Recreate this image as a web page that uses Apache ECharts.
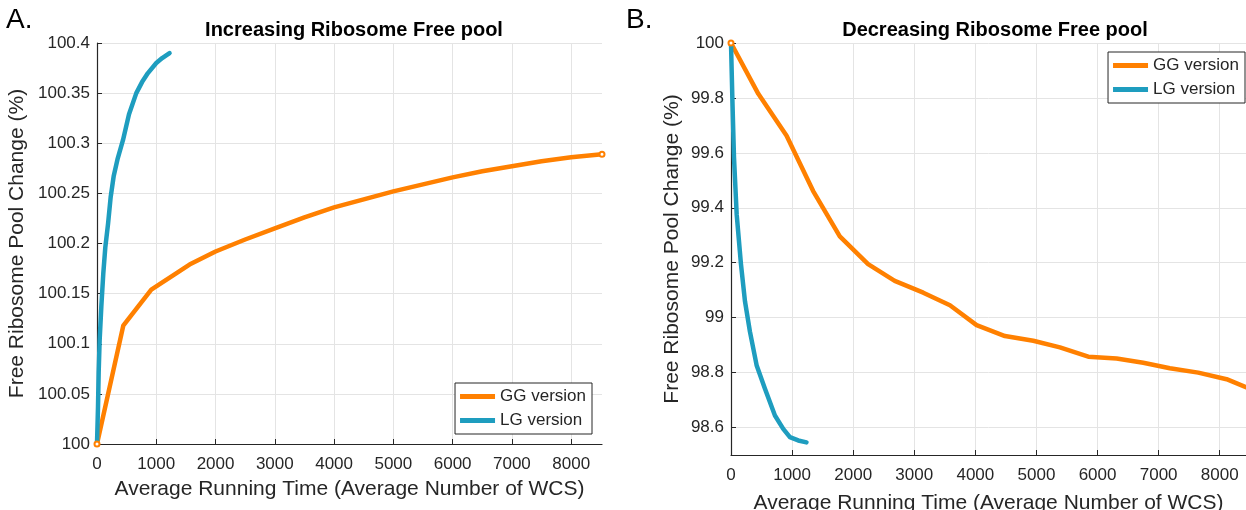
<!DOCTYPE html>
<html>
<head>
<meta charset="utf-8">
<script src="https://cdn.jsdelivr.net/npm/echarts@6/dist/echarts.min.js"></script>
<style>
  html, body { margin: 0; padding: 0; background: #fff; }
  #chart { width: 1246px; height: 510px; }
</style>
</head>
<body>
<div id="chart"></div>
<script>
// Panel A: increasing free ribosome pool
const incGGx = [0, 443, 916, 1561, 2000, 2500, 3000, 3500, 4000, 4500, 5000, 5500, 6000, 6500, 7000, 7500, 8000, 8520];
const incGGy = [100, 100.118, 100.154, 100.179, 100.192, 100.204, 100.215, 100.226, 100.236, 100.244, 100.252, 100.259, 100.266, 100.272, 100.277, 100.282, 100.286, 100.289];
const incLGx = [0, 17, 28, 45, 73, 106, 140, 187, 230, 281, 350, 438, 540, 663, 760, 859, 1000, 1100, 1224];
const incLGy = [100, 100.037, 100.071, 100.104, 100.137, 100.170, 100.196, 100.220, 100.246, 100.267, 100.285, 100.303, 100.329, 100.350, 100.361, 100.370, 100.380, 100.385, 100.390];

// Panel B: decreasing free ribosome pool
const decGGx = [0, 447, 910, 1345, 1781, 2244, 2680, 3147, 3584, 4020, 4484, 4948, 5384, 5848, 6312, 6748, 7184, 7648, 8112, 8428];
const decGGy = [100, 99.815, 99.662, 99.461, 99.296, 99.195, 99.134, 99.091, 99.045, 98.973, 98.933, 98.916, 98.892, 98.858, 98.851, 98.836, 98.816, 98.800, 98.776, 98.747];
const decLGx = [0, 22, 49, 93, 163, 229, 310, 419, 556, 719, 855, 964, 1100, 1236];
const decLGy = [100, 99.80, 99.583, 99.376, 99.195, 99.059, 98.949, 98.827, 98.741, 98.644, 98.595, 98.565, 98.553, 98.546];

// Tick labels
const xTicks = [0, 1000, 2000, 3000, 4000, 5000, 6000, 7000, 8000];
const incYTicks = [100, 100.05, 100.1, 100.15, 100.2, 100.25, 100.3, 100.35, 100.4];
const decYTicks = [98.6, 98.8, 99, 99.2, 99.4, 99.6, 99.8, 100];

const seriesNames = ['GG version', 'LG version'];
const ORANGE = '#ff8000';
const BLUE = '#1e9dbf';
const FONT = '"Liberation Sans", Arial, Helvetica, sans-serif';
const INK = '#262626';

function pairs(xs, ys, markEnds) {
  return xs.map((x, i) => {
    const item = { value: [x, ys[i]] };
    if (markEnds && markEnds.includes(i)) {
      item.symbol = 'emptyCircle';
      item.symbolSize = 5;
    }
    return item;
  });
}

function xAxisCfg(gridIndex, max, nameGap, labelMargin) {
  return {
    type: 'value', gridIndex, min: 0, max,
    name: 'Average Running Time (Average Number of WCS)',
    nameLocation: 'middle', nameGap,
    nameTextStyle: { fontFamily: FONT, fontSize: 21, color: INK },
    axisLine: { show: true, lineStyle: { color: INK, width: 1.2 } },
    axisTick: { show: true, inside: true, length: 5, customValues: xTicks, lineStyle: { color: INK } },
    axisLabel: {
      customValues: xTicks, margin: labelMargin, fontFamily: FONT, fontSize: 17, color: INK,
      formatter: v => String(Math.round(v))
    },
    splitLine: { show: true, lineStyle: { color: '#e4e4e4', width: 1 } }
  };
}

function yAxisCfg(gridIndex, min, max, ticks, nameGap) {
  return {
    type: 'value', gridIndex, min, max,
    name: 'Free Ribosome Pool Change (%)',
    nameLocation: 'middle', nameGap,
    nameTextStyle: { fontFamily: FONT, fontSize: 21, color: INK },
    axisLine: { show: true, lineStyle: { color: INK, width: 1.2 } },
    axisTick: { show: true, inside: true, length: 5, customValues: ticks, lineStyle: { color: INK } },
    axisLabel: {
      customValues: ticks, margin: 7, fontFamily: FONT, fontSize: 17, color: INK,
      formatter: v => String(+(+v).toFixed(2))
    },
    splitLine: { show: true, lineStyle: { color: '#e4e4e4', width: 1 } }
  };
}

function lineSeries(name, color, xi, yi, data) {
  return {
    type: 'line', name, xAxisIndex: xi, yAxisIndex: yi, data,
    symbol: 'none', showSymbol: true, smooth: false,
    lineStyle: { color, width: 4.5, join: 'round', cap: 'round' },
    itemStyle: { color, borderColor: color },
    emphasis: { disabled: true }, animation: false, clip: true
  };
}

function legendCfg(pos) {
  return Object.assign({
    orient: 'vertical', data: seriesNames,
    backgroundColor: '#fff', borderColor: INK, borderWidth: 1, borderRadius: 0,
    padding: [5, 6, 5, 5], itemWidth: 35, itemHeight: 5, itemGap: 7, itemTextGap: 5,
    icon: 'rect', selectedMode: false,
    textStyle: { fontFamily: FONT, fontSize: 17, color: INK }
  }, pos);
}

const chart = echarts.init(document.getElementById('chart'), null, { renderer: 'canvas' });
chart.setOption({
  backgroundColor: '#fff',
  animation: false,
  title: [
    { text: 'Increasing Ribosome Free pool', left: 349, top: 15, textAlign: 'center',
      textStyle: { fontFamily: FONT, fontSize: 20, fontWeight: 'bold', color: '#000' } },
    { text: 'Decreasing Ribosome Free pool', left: 990, top: 15, textAlign: 'center',
      textStyle: { fontFamily: FONT, fontSize: 20, fontWeight: 'bold', color: '#000' } }
  ],
  graphic: [
    { type: 'text', left: 6, top: 6, style: { text: 'A.', font: '28px ' + FONT, fill: '#000' } },
    { type: 'text', left: 626, top: 6, style: { text: 'B.', font: '28px ' + FONT, fill: '#000' } }
  ],
  legend: [
    legendCfg({ right: 654, bottom: 76 }),
    legendCfg({ right: 1, top: 52 })
  ],
  grid: [
    { left: 97, right: 644, top: 43, bottom: 66, containLabel: false, outerBoundsMode: 'none' },
    { left: 731, right: 0, top: 43, bottom: 55, containLabel: false, outerBoundsMode: 'none' }
  ],
  xAxis: [
    xAxisCfg(0, 8520, 35, 12),
    xAxisCfg(1, 8430, 38, 12)
  ],
  yAxis: [
    yAxisCfg(0, 100, 100.4, incYTicks, 69),
    yAxisCfg(1, 98.5, 100, decYTicks, 48)
  ],
  series: [
    lineSeries(seriesNames[0], ORANGE, 0, 0, pairs(incGGx, incGGy, [0, incGGx.length - 1])),
    lineSeries(seriesNames[1], BLUE, 0, 0, pairs(incLGx, incLGy)),
    lineSeries(seriesNames[0], ORANGE, 1, 1, pairs(decGGx, decGGy, [0])),
    lineSeries(seriesNames[1], BLUE, 1, 1, pairs(decLGx, decLGy))
  ]
});
</script>
</body>
</html>
